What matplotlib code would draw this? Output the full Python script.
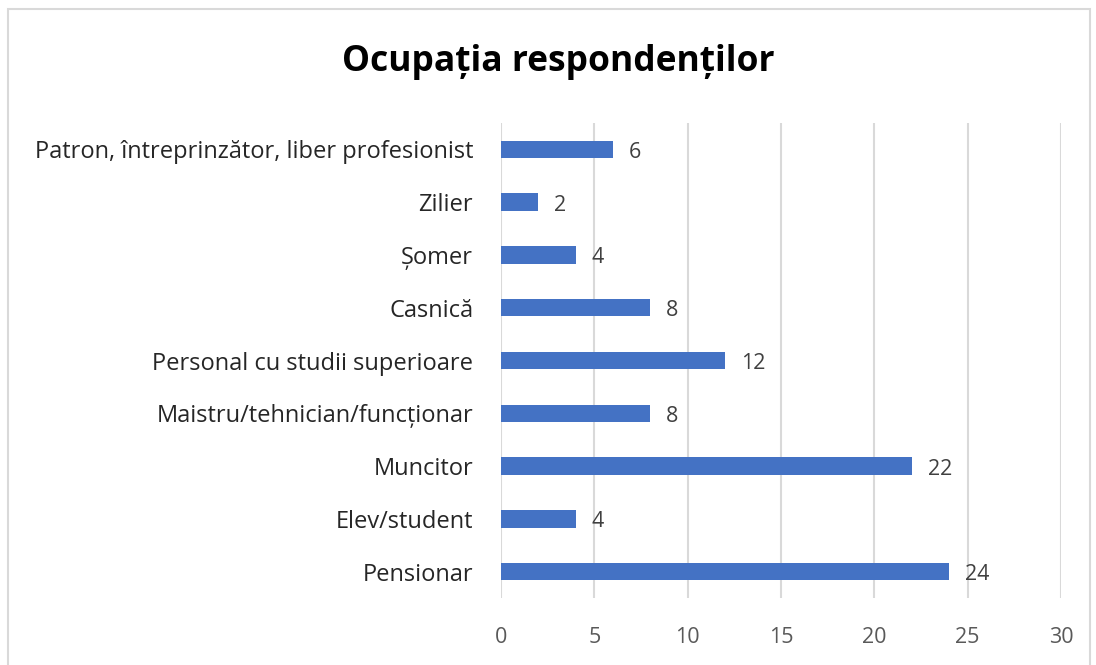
import matplotlib
matplotlib.use("Agg")
import matplotlib.pyplot as plt
from matplotlib.patches import Rectangle

categories = ["Pensionar", "Elev/student", "Muncitor", "Maistru/tehnician/funcționar",
              "Personal cu studii superioare", "Casnică", "Șomer", "Zilier",
              "Patron, întreprinzător, liber profesionist"]
values = [24, 4, 22, 8, 12, 8, 4, 2, 6]
xticks = [0, 5, 10, 15, 20, 25, 30]
title = "Ocupația respondenților"

plt.rcParams['font.family'] = ['Open Sans', 'DejaVu Sans']

fig = plt.figure(figsize=(10.96, 6.65), dpi=100)
ax = fig.add_axes([501/1096, 1-598/665, 560/1096, 475/665])

ypos = list(range(len(categories)))
bars = ax.barh(ypos, values, height=0.33, color="#4472C4", zorder=3)
for y, v in zip(ypos, values):
    ax.annotate(str(v), xy=(v, y), xytext=(16, -3), textcoords="offset pixels",
                va="center", ha="left", fontsize=15.5, color="#404040")

ax.set_xlim(0, 30)
ax.set_ylim(-0.5, len(categories) - 0.5)
ax.set_xticks(xticks)
ax.set_xticklabels([str(t) for t in xticks], fontsize=15.5, color="#595959")
ax.set_yticks(ypos)
ax.set_yticklabels(categories, fontsize=17, color="#262626")
ax.tick_params(axis="both", length=0)
ax.tick_params(axis="x", pad=21)
ax.tick_params(axis="y", pad=20)
ax.grid(axis="x", color="#D9D9D9", linewidth=1.5, zorder=0)
for s in ax.spines.values():
    s.set_visible(False)

fig.text(558/1096, 1-62/665, title, ha="center", va="center", fontsize=25.5,
         fontweight="bold", color="#000000")

fig.patches.append(Rectangle((8/1096, -0.05), (1090-8)/1096, (665-9)/665 + 0.05,
                             transform=fig.transFigure, fill=False,
                             edgecolor="#D9D9D9", linewidth=1.5))

fig.savefig("out.png", dpi=100)
